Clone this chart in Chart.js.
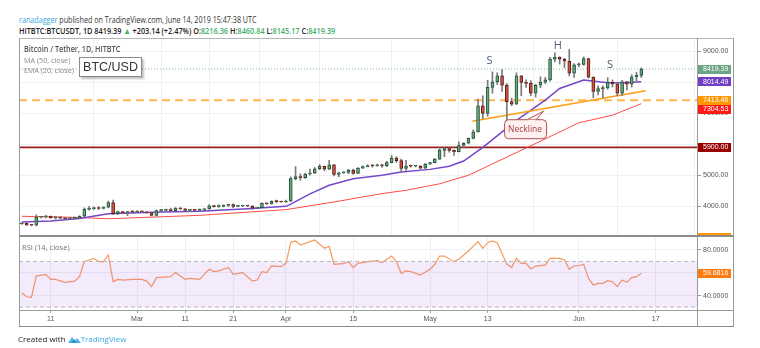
<!DOCTYPE html>
<html>
<head>
<meta charset="utf-8">
<script src="https://cdn.jsdelivr.net/npm/chart.js@4.4.1/dist/chart.umd.min.js"></script>
<style>
  body { margin: 0; background: #fff; }
  #page { position: relative; width: 760px; height: 348px; overflow: hidden; font-family: "Open Sans", Roboto, sans-serif; }
  .abs { position: absolute; white-space: nowrap; transform-origin: 0 0; }
  .g { color: #3fae6a; }
  canvas { position: absolute; }
  .line { position: absolute; background: #9a9a9a; }
</style>
</head>
<body>
<div id="page">
  <div class="abs" id="hdr1" style="left:19px;top:14px;font-size:8.5px;color:#333"></div>
  <div class="abs" id="hdr2" style="left:19px;top:25px;font-size:8.5px;color:#222;font-weight:600"></div>

  <canvas id="main" width="715" height="198" style="left:19px;top:38px"></canvas>
  <canvas id="rsi" width="715" height="90" style="left:19px;top:236px"></canvas>

  <!-- frame -->
  <div class="line" style="left:19px;top:38px;width:715px;height:1px;background:#b5b5b5"></div>
  <div class="line" style="left:19px;top:38px;width:1px;height:289px;background:#9a9a9a"></div>
  <div class="line" style="left:733px;top:38px;width:1px;height:289px;background:#9a9a9a"></div>
  <div class="line" style="left:697px;top:38px;width:1px;height:289px;background:#9a9a9a"></div>
  <div class="line" style="left:19px;top:235px;width:715px;height:2px;background:#8d8d8d"></div>
  <div class="line" style="left:19px;top:310px;width:715px;height:1px;background:#9a9a9a"></div>
  <div class="line" style="left:19px;top:326px;width:715px;height:1px;background:#8d8d8d"></div>

  <div class="abs" id="lg1" style="left:24px;top:43px;font-size:8px;color:#555;font-weight:600">Bitcoin / Tether, 1D, HITBTC</div>
  <div class="abs" id="lg2" style="left:24px;top:54px;font-size:8px;color:#888">MA (50, close)</div>
  <div class="abs" id="lg3" style="left:24px;top:64px;font-size:8px;color:#888">EMA (20, close)</div>
  <div class="abs" id="lg4" style="left:22px;top:241px;font-size:8px;color:#777">RSI (14, close)</div>

  <div class="abs" style="left:79px;top:57px;width:61px;height:18px;background:#fff;border:1px solid #8a8a8a;box-shadow:2px 2px 2px rgba(0,0,0,0.25);font-family:'Liberation Sans',Arial,sans-serif;font-size:12.5px;color:#333;text-align:center;line-height:18px">BTC/USD</div>

  <div class="abs" id="foot" style="left:18px;top:333px;font-size:8px;color:#222">Created with
    <svg width="13" height="8" viewBox="0 0 13 8" style="vertical-align:-1px"><path d="M0 8 L4 2 L7 6 L9 3 L13 8 Z" fill="#52b5e8"/><path d="M3 8 L6 4 L9 8 Z" fill="#2d8fc8"/></svg><span style="color:#3ba9e0">TradingView</span></div>
</div>

<script>
// ---- data (2019, daily candles from 5 Feb to 14 Jun) ----
const firstDate = '2019-02-05';
const firstDay = 35;            // day of year, 1 Jan = 0

const open = [
  3440,3450,3400,3390,3650,3660,3680,3630,3640,3620,3600,3610,3630,3680,3900,3920,3960,3930,3970,4120,3760,3830,3800,3820,
  3810,3830,3820,3790,3710,3860,3870,3880,3860,3940,3920,3870,3890,3870,3880,3920,4020,3990,3995,4030,4060,4000,4010,4020,4010,3940,3960,4100,4080,4160,4150,
  4140,4170,4890,4960,4920,5040,5070,5210,5290,5200,5340,5030,5080,5090,5170,5060,5230,5280,5310,5300,5340,5300,5410,5550,5470,5220,5300,5290,5300,5230,
  5360,5410,5520,5800,5860,5800,5760,5960,6030,6190,6400,7240,6990,7830,8010,8200,7900,7370,7290,8200,7990,7960,7640,7900,8000,8070,8740,8800,8740,8670,8290,
  8560,8570,8760,8160,7700,7790,7810,8000,7940,7640,8010,7930,8170,8216.36
];
const high = [
  3470,3460,3420,3730,3680,3700,3690,3680,3670,3640,3650,3660,3700,3950,4000,3980,3990,3990,4170,4200,3850,3840,3840,3870,
  3860,3850,3830,3800,3890,3900,3910,3940,3960,3950,3930,3900,3900,3920,3940,4060,4030,4050,4050,4070,4080,4030,4030,4030,4020,3970,4110,4110,4180,4200,4160,
  4200,4950,5280,5050,5060,5200,5250,5350,5300,5480,5350,5100,5120,5190,5200,5250,5300,5340,5350,5360,5360,5450,5640,5600,5520,5480,5330,5320,5310,5380,
  5420,5540,5900,5890,5880,5820,6080,6050,6200,6460,7450,7560,8060,8330,8300,8400,7950,7480,8300,8210,8070,8050,7930,8170,8150,8800,8940,8820,8760,9050,8600,
  8610,8810,8770,8170,7880,7880,8140,8070,7960,8060,8020,8240,8320,8460.84
];
const low = [
  3420,3380,3370,3370,3630,3630,3610,3590,3610,3580,3590,3600,3620,3670,3880,3900,3900,3920,3950,3730,3740,3780,3700,3790,
  3800,3800,3780,3690,3700,3830,3860,3840,3850,3900,3850,3830,3860,3840,3870,3910,3970,3970,3980,4000,3960,3990,3990,3990,3900,3930,3950,4060,4070,4120,4130,
  4130,4160,4850,4840,4900,5000,5060,5180,5150,5180,4980,4950,5060,5050,5030,5050,5220,5270,5260,5290,5250,5280,5400,5410,5100,5160,5260,5270,5200,5220,
  5350,5400,5510,5600,5740,5640,5750,5880,6020,6170,6390,6820,6900,7640,7920,7700,6660,7240,7280,7560,7830,7560,7520,7820,7950,8030,8650,8580,8460,8200,8150,
  8500,8540,8130,7500,7590,7490,7770,7840,7560,7560,7750,7840,8030,8145.17
];
const close = [
  3450,3400,3390,3650,3660,3680,3630,3640,3620,3600,3610,3630,3680,3900,3920,3960,3930,3970,4120,3760,3830,3800,3820,3810,
  3830,3820,3790,3710,3860,3870,3880,3860,3940,3920,3870,3890,3870,3880,3920,4020,3990,3995,4030,4060,4000,4010,4020,4010,3940,3960,4100,4080,4160,4150,4140,
  4170,4890,4960,4920,5040,5070,5210,5290,5200,5340,5030,5080,5090,5170,5060,5230,5280,5310,5300,5340,5300,5410,5550,5470,5220,5300,5290,5300,5230,5360,
  5410,5520,5800,5860,5800,5760,5960,6030,6190,6400,7240,6990,7830,8010,8200,7900,7370,7290,8200,7990,7960,7640,7900,8000,8070,8740,8800,8740,8670,8290,8560,
  8570,8760,8160,7700,7790,7810,8000,7940,7640,8010,7930,8170,8216.25,8419.39
];

// EMA (20) - purple
const emaDays = [35,41,47,53,62,72,82,90,91,95,99,104,110,114,120,124,127,131,138,144,147,152,157,160,164];
const emaVals = [3494,3525,3610,3760,3806,3840,3925,4000,4070,4400,4677,4890,5000,5107,5190,5290,5460,5900,6770,7420,7795,8064,7980,7980,8014.49];

// MA (50) - red
const maDays = [35,45,53,59,72,90,100,110,115,122,128,134,141,151,158,164];
const maVals = [3680,3650,3600,3635,3710,3894,4140,4410,4516,4726,5000,5440,5950,6690,6935,7304.53];

// RSI (14)
const rsiDays = [35,36,37,38,40,41,42,44,46,47,48,50,51,52,53,54,55,56,58,60,61,62,63,66,67,69,70,72,74,75,76,78,79,81,83,84,85,86,87,89,90,
  91,92,93,96,98,99,100,102,103,104,105,107,109,110,112,113,114,115,116,118,120,121,122,123,125,126,128,130,131,132,133,134,136,137,138,139,140,
  141,142,144,145,147,148,149,150,151,152,153,154,155,156,157,158,159,160,161,162,163,164];
const rsiVals = [42.6,39.1,38.6,57.2,58.7,54.3,54.3,51.7,52.8,56.7,69.8,72.7,69.8,69.8,75.6,52.3,54.3,53.7,54.3,54.3,52.8,47.9,55.8,56.7,60.2,54.3,55.2,54.3,63.1,61.1,61.7,64.8,58.7,60.2,52.8,53.7,61.1,60.2,66,65.4,68.3,
  86.7,87.9,84.4,88.8,81.5,83.3,67.5,68,69.8,64.5,68.3,69.8,70.7,69,74.7,69.8,59.6,61.7,61.1,58.1,63.1,67.5,74.7,74.7,69.8,71.9,79.1,87.3,81.5,86.4,87.9,86.4,67.5,64.8,72.7,68.3,68.3,
  63.4,65.9,66.8,72.7,72.7,71.3,63.1,66.2,66.2,67.5,55.2,49.4,50.8,50.8,53.1,52.2,47.9,53.7,51.7,55.8,56.7,59.6816];

// drawn levels and the neckline
const supportLevel = 5900;
const dashedLevel = 7413.46;
const necklineDays = [128.8, 164.9];
const necklineVals = [6742, 7719];

// axis ticks
const gridDays = [41, 59, 69, 79, 90, 104, 120, 132, 151, 167];
const gridLabels = ['11', 'Mar', '11', '21', 'Apr', '15', 'May', '13', 'Jun', '17'];
const priceTicks = [4000, 5000, 6000, 7000, 8000, 9000];
const hiddenPriceLabels = [6000, 8000];   // sit under the price tags
const rsiTicks = [40, 60, 80];

// pattern labels (S H S) and the neckline note
const patternLabels = [
  { text: 'S', day: 132.4, price: 8680 },
  { text: 'H', day: 146.6, price: 9160 },
  { text: 'S', day: 157.5, price: 8560 }
];
const neckNote = { text: 'Neckline', day: 139.8, price: 6500 };

// ---- view ----
const xMin = 34.4, xMax = 175.6;
const gridColor = '#eef0f2';
const axisFont = { family: 'Liberation Sans', size: 7 };

const last = close.length - 1;
const change = close[last] - close[last - 1];

document.getElementById('hdr1').innerHTML =
  '<span style="color:#38a8df">ranadagger</span> published on TradingView.com, June 14, 2019 15:47:38 UTC';
document.getElementById('hdr2').innerHTML =
  'HITBTC:BTCUSDT, 1D ' + close[last].toFixed(2) + ' <span class="g">&#9650;</span> +' + change.toFixed(2) +
  ' (+' + (change / close[last - 1] * 100).toFixed(2) + '%) O:<span class="g">' + open[last].toFixed(2) +
  '</span> H:<span class="g">' + high[last].toFixed(2) + '</span> L:<span class="g">' + low[last].toFixed(2) +
  '</span> C:<span class="g">' + close[last].toFixed(2) + '</span>';

function fitWidth(id, w) {
  const el = document.getElementById(id);
  el.style.transform = 'scaleX(' + (w / el.offsetWidth) + ')';
}
fitWidth('hdr1', 238);
fitWidth('hdr2', 316);
fitWidth('lg1', 96);
fitWidth('lg2', 46);
fitWidth('lg3', 50);
fitWidth('lg4', 48);

const hLine = (v) => [{ x: xMin, y: v }, { x: xMax, y: v }];
const pts = (days, vals) => days.map((d, i) => ({ x: d, y: vals[i] }));
const isUp = close.map((c, i) => c >= open[i]);

// price tags on the right axis
const tagPlugin = {
  id: 'tags',
  afterDraw(chart, args, opts) {
    const ctx = chart.ctx, y = chart.scales.y, area = chart.chartArea;
    const h = 9;
    const items = opts.items.map(t => ({ ...t, py: y.getPixelForValue(t.value) }));
    items.sort((a, b) => a.py - b.py);
    for (let k = 1; k < items.length; k++) {
      if (items[k].py - items[k - 1].py < h) items[k].py = items[k - 1].py + h;
    }
    ctx.save();
    ctx.font = '7px "Liberation Sans"';
    ctx.textBaseline = 'middle';
    for (const t of items) {
      ctx.fillStyle = t.color;
      ctx.fillRect(area.right + 1, Math.round(t.py - h / 2), 33, h);
      ctx.fillStyle = '#fff';
      ctx.fillText(t.value.toFixed(opts.digits), area.right + 6, Math.round(t.py) + 0.5);
    }
    if (opts.bottomBar) {
      ctx.fillStyle = opts.bottomBar;
      ctx.fillRect(area.right + 1, area.bottom - 3, 33, 3);
    }
    ctx.restore();
  }
};

// S / H / S letters and the neckline note
const notePlugin = {
  id: 'notes',
  afterDatasetsDraw(chart) {
    const { ctx, scales: { x, y } } = chart;
    ctx.save();
    ctx.font = '11px "Open Sans"';
    ctx.fillStyle = '#4b6074';
    ctx.textAlign = 'center';
    ctx.textBaseline = 'middle';
    for (const p of patternLabels) {
      ctx.fillText(p.text, x.getPixelForValue(p.day), y.getPixelForValue(p.price));
    }
    const cx = x.getPixelForValue(neckNote.day), cy = y.getPixelForValue(neckNote.price);
    const w = 42, h = 19;
    ctx.fillStyle = '#fdf0f0';
    ctx.strokeStyle = '#b0514f';
    ctx.lineWidth = 1;
    ctx.beginPath();
    ctx.roundRect(cx - w / 2 + 0.5, cy - h / 2 + 0.5, w, h, 4);
    ctx.fill();
    ctx.stroke();
    // pointer to the neckline
    ctx.beginPath();
    ctx.moveTo(cx + 2, cy - h / 2 + 0.5);
    ctx.lineTo(cx + 18.5, cy - 17.5);
    ctx.lineTo(cx + 11, cy - h / 2 + 0.5);
    ctx.closePath();
    ctx.fill();
    ctx.stroke();
    ctx.fillStyle = '#fdf0f0';
    ctx.fillRect(cx + 2.5, cy - h / 2 + 0.5, 8, 1.5);
    ctx.fillStyle = '#a8403e';
    ctx.font = '8.5px "Open Sans"';
    ctx.fillText(neckNote.text, cx, cy + 0.5);
    ctx.restore();
  }
};

const xScale = (showLabels) => ({
  type: 'linear', min: xMin, max: xMax, offset: false,
  afterBuildTicks: a => { a.ticks = gridDays.map(v => ({ value: v })); },
  ticks: {
    display: showLabels, autoSkip: false, maxRotation: 0, padding: 2,
    font: axisFont, color: '#555',
    callback: v => gridLabels[gridDays.indexOf(v)]
  },
  grid: { color: gridColor, drawTicks: showLabels, tickLength: 3, tickColor: '#999' },
  border: { display: false },
  afterFit: a => { a.height = showLabels ? 16 : 0; a.paddingLeft = 0; a.paddingRight = 0; }
});

new Chart(document.getElementById('main'), {
  type: 'bar',
  data: {
    datasets: [
      { type: 'line', data: hLine(supportLevel), borderColor: '#9c1e1e', borderWidth: 1.6, pointRadius: 0, order: 10 },
      { type: 'line', data: hLine(dashedLevel), borderColor: '#ffb54d', borderWidth: 2, borderDash: [8, 5], pointRadius: 0, order: 10 },
      { type: 'line', data: hLine(close[last]), borderColor: '#7fb8a0', borderWidth: 1, borderDash: [1, 2], pointRadius: 0, order: 10 },
      { type: 'line', data: pts(maDays, maVals), borderColor: '#ff4a4a', borderWidth: 1, pointRadius: 0, order: 6 },
      { type: 'line', data: pts(emaDays, emaVals), borderColor: '#7446c9', borderWidth: 1.5, pointRadius: 0, order: 5 },
      { type: 'line', data: pts(necklineDays, necklineVals), borderColor: '#ff9d12', borderWidth: 1.5, pointRadius: 0, order: 4 },
      {
        data: close.map((c, i) => ({ x: firstDay + i, y: [low[i], high[i]] })),
        backgroundColor: '#7a7a7c', barThickness: 1, grouped: false, order: 2
      },
      {
        data: close.map((c, i) => ({ x: firstDay + i, y: [open[i], c] })),
        backgroundColor: isUp.map(u => u ? '#6ba583' : '#d75442'),
        borderColor: isUp.map(u => u ? '#225437' : '#5b1a13'),
        borderWidth: 1, borderSkipped: false, barThickness: 3, minBarLength: 1, grouped: false, order: 1
      }
    ]
  },
  options: {
    responsive: false, animation: false, events: [],
    layout: { padding: 0 },
    plugins: {
      legend: { display: false }, tooltip: { enabled: false },
      tags: {
        digits: 2, bottomBar: '#ff9800',
        items: [
          { value: close[last], color: '#6ba583' },
          { value: emaVals[emaVals.length - 1], color: '#6f3fc4' },
          { value: dashedLevel, color: '#ff9800' },
          { value: maVals[maVals.length - 1], color: '#ff1a1a' },
          { value: supportLevel, color: '#990000' }
        ]
      }
    },
    scales: {
      x: xScale(false),
      y: {
        position: 'right', min: 3045, max: 9420,
        afterBuildTicks: a => { a.ticks = priceTicks.map(v => ({ value: v })); },
        ticks: { callback: v => hiddenPriceLabels.includes(v) ? '' : v.toFixed(2), font: axisFont, color: '#555', padding: 2 },
        grid: { color: gridColor, tickLength: 4, tickColor: '#999' },
        border: { display: false },
        afterFit: a => { a.width = 37; a.paddingTop = 0; a.paddingBottom = 0; }
      }
    }
  },
  plugins: [tagPlugin, notePlugin]
});

new Chart(document.getElementById('rsi'), {
  type: 'line',
  data: {
    datasets: [
      { data: hLine(70), borderColor: '#b9b9b9', borderWidth: 1, borderDash: [4, 3], pointRadius: 0,
        fill: '+1', backgroundColor: 'rgba(156, 80, 230, 0.12)' },
      { data: hLine(30), borderColor: '#b9b9b9', borderWidth: 1, borderDash: [4, 3], pointRadius: 0, fill: false },
      { data: pts(rsiDays, rsiVals), borderColor: '#fb9a5c', borderWidth: 1.2, pointRadius: 0, fill: false }
    ]
  },
  options: {
    responsive: false, animation: false, events: [],
    layout: { padding: 0 },
    plugins: {
      legend: { display: false }, tooltip: { enabled: false },
      tags: { digits: 4, items: [{ value: rsiVals[rsiVals.length - 1], color: '#ff7a0f' }] }
    },
    scales: {
      x: xScale(true),
      y: {
        position: 'right', min: 27.48, max: 92.25,
        afterBuildTicks: a => { a.ticks = rsiTicks.map(v => ({ value: v })); },
        ticks: { callback: v => v.toFixed(4), font: axisFont, color: '#555', padding: 2 },
        grid: { color: gridColor, tickLength: 4, tickColor: '#999' },
        border: { display: false },
        afterFit: a => { a.width = 37; a.paddingTop = 0; a.paddingBottom = 0; }
      }
    }
  },
  plugins: [tagPlugin]
});
</script>
</body>
</html>
